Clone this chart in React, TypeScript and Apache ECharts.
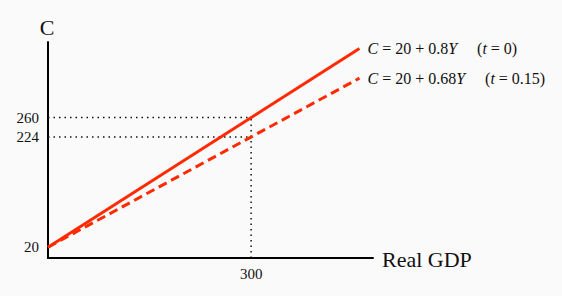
import React, { useEffect, useRef } from "react";
import * as echarts from "echarts";

// Real GDP (Y) endpoints of the plotted consumption functions
const gdpPoints = [0, 460];
// Consumption at t = 0 (C = 20 + 0.8Y)
const consumptionT0 = [20, 388];
// Consumption at t = 0.15 (C = 20 + 0.68Y)
const consumptionT15 = [20, 333];
// Reference values
const refGdp = 300;
const refC = [260, 224];
const yTicks = [20, 224, 260];
const xTicks = [300];

const RED = "#ff2a00";
const FONT = "Liberation Serif";

export default function App() {
  const ref = useRef<HTMLDivElement>(null);
  useEffect(() => {
    document.body.style.margin = "0";
    document.body.style.background = "#fafafa";
    const chart = echarts.init(ref.current!, null, { renderer: "svg" });
    const rich = {
      i: { fontFamily: FONT, fontStyle: "italic", fontSize: 16, color: "#111" },
      n: { fontFamily: FONT, fontSize: 16, color: "#111" },
    };
    const mkLabel = (slope: string, t: string) =>
      `{i|C}{n| = 20 + ${slope}}{i|Y}{n|     (}{i|t}{n| = ${t})}`;
    const line = (vals: number[], dashed: boolean, label: string) => ({
      type: "line",
      data: gdpPoints.map((x, i) => [x, vals[i]]),
      symbol: "none",
      lineStyle: { color: RED, width: 3, type: dashed ? [9, 5] : "solid" },
      endLabel: { show: true, formatter: label, distance: 8, rich },
      z: 3,
    });
    const dotted = (pts: number[][]) => ({
      type: "line",
      data: pts,
      symbol: "none",
      lineStyle: { color: "#111", width: 1.5, type: [1.5, 4] },
      z: 2,
    });
    chart.setOption({
      animation: false,
      backgroundColor: "#fafafa",
      grid: { left: 48, top: 42, width: 325, height: 216 },
      xAxis: {
        type: "value",
        min: 0,
        max: 480,
        axisLine: { show: true, lineStyle: { color: "#000", width: 2 } },
        axisTick: { show: false },
        splitLine: { show: false },
        axisLabel: {
          customValues: xTicks,
          fontFamily: FONT,
          fontSize: 15,
          color: "#111",
          margin: 8,
        },
      },
      yAxis: {
        type: "value",
        min: 0,
        max: 400,
        axisLine: { show: true, lineStyle: { color: "#000", width: 2 } },
        axisTick: { show: false },
        splitLine: { show: false },
        axisLabel: {
          customValues: yTicks,
          fontFamily: FONT,
          fontSize: 15,
          color: "#111",
          margin: 9,
        },
      },
      graphic: [
        {
          type: "text",
          x: 47,
          y: 27,
          style: {
            text: "C",
            font: `22px ${FONT}`,
            fill: "#111",
            textAlign: "center",
            textVerticalAlign: "middle",
          },
        },
        {
          type: "text",
          x: 382,
          y: 259,
          style: {
            text: "Real GDP",
            font: `22px ${FONT}`,
            fill: "#111",
            textAlign: "left",
            textVerticalAlign: "middle",
          },
        },
      ],
      series: [
        dotted([[0, refC[0]], [refGdp, refC[0]]]),
        dotted([[0, refC[1]], [refGdp, refC[1]]]),
        dotted([[refGdp, 0], [refGdp, refC[0]]]),
        line(consumptionT0, false, mkLabel("0.8", "0")),
        line(consumptionT15, true, mkLabel("0.68", "0.15")),
      ],
    });
    return () => chart.dispose();
  }, []);
  return <div ref={ref} style={{ width: 562, height: 296 }} />;
}
